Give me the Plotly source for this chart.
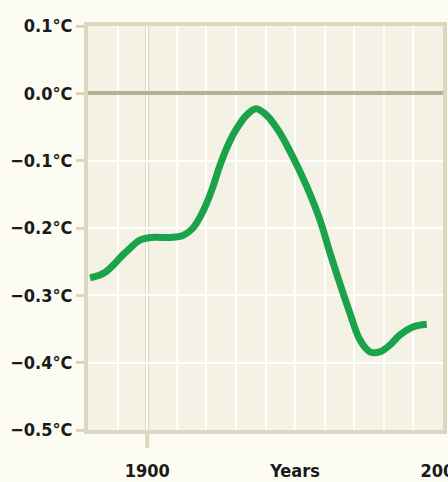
import plotly.graph_objects as go

# Data
years = [1880.7, 1885.7, 1892.5, 1897.6, 1901.6, 1907.7, 1912.1, 1915.5, 1918.9, 1921.9,
         1924.6, 1927.3, 1930.3, 1933.7, 1936.8, 1940.5, 1944.9, 1949.3, 1954.0, 1958.4,
         1961.8, 1965.1, 1968.5, 1971.9, 1975.3, 1978.6, 1982.0, 1985.4, 1989.8, 1994.5]
temps = [-0.274, -0.266, -0.237, -0.218, -0.214, -0.214, -0.211, -0.200, -0.175, -0.143,
         -0.107, -0.077, -0.052, -0.032, -0.023, -0.033, -0.059, -0.095, -0.139, -0.188,
         -0.237, -0.282, -0.326, -0.366, -0.384, -0.384, -0.374, -0.359, -0.347, -0.343]

y_ticks = [0.1, 0.0, -0.1, -0.2, -0.3, -0.4, -0.5]
y_labels = ["0.1°C", "0.0°C", "−0.1°C", "−0.2°C", "−0.3°C", "−0.4°C", "−0.5°C"]
x_ticks = [1900, 1950, 2000]
x_labels = ["1900", "Years", "2000"]
x_range = [1880, 2000]
y_range = [-0.5, 0.1]

TAN = "#DCD8C0"
FONT = "DejaVu Sans Condensed, Liberation Sans Narrow, Arial Narrow, sans-serif"

fig = go.Figure()
fig.add_trace(go.Scatter(
    x=years, y=temps, mode="lines",
    line=dict(color="#1AA34A", width=7, shape="spline", smoothing=1.0),
    hoverinfo="skip", showlegend=False,
))

# 1900 highlighted gridline with tick below the axis
x1900 = (1900 - x_range[0]) / (x_range[1] - x_range[0])
fig.add_shape(type="line", xref="paper", yref="paper", x0=x1900, x1=x1900, y0=-0.045, y1=1,
              line=dict(color=TAN, width=4), layer="between")

fig.update_layout(
    width=448, height=482,
    margin=dict(l=88, r=5, t=26, b=52),
    paper_bgcolor="#FCFCF2",
    plot_bgcolor="#F4F2E4",
    font=dict(family=FONT, color="#1A1A1A", size=18),
    showlegend=False,
)
fig.update_xaxes(
    range=x_range, tickvals=x_ticks, ticktext=x_labels, ticks="",
    showgrid=False, zeroline=False, automargin=False,
    showline=True, mirror=True, linecolor=TAN, linewidth=4,
    tickfont=dict(family=FONT, size=18, weight="bold"),
    ticklabeloverflow="allow", ticklabelstandoff=21,
    minor=dict(dtick=10, tick0=1880, showgrid=True, gridcolor="#FFFFFF", gridwidth=2, ticks=""),
    fixedrange=True,
)
fig.update_yaxes(
    range=y_range, tickvals=y_ticks, ticktext=y_labels, automargin=False,
    ticks="outside", ticklen=8, tickwidth=3, tickcolor=TAN,
    showgrid=True, gridcolor="#FFFFFF", gridwidth=2,
    zeroline=True, zerolinecolor="#B5B096", zerolinewidth=4,
    showline=True, mirror=True, linecolor=TAN, linewidth=4,
    tickfont=dict(family=FONT, size=18, weight="bold"),
    ticklabeloverflow="allow",
    fixedrange=True,
)

fig.write_html(
    "out.html",
    config={"responsive": False, "displayModeBar": False},
    post_script="document.body.style.margin='0';document.body.style.background='#FCFCF2';",
)
